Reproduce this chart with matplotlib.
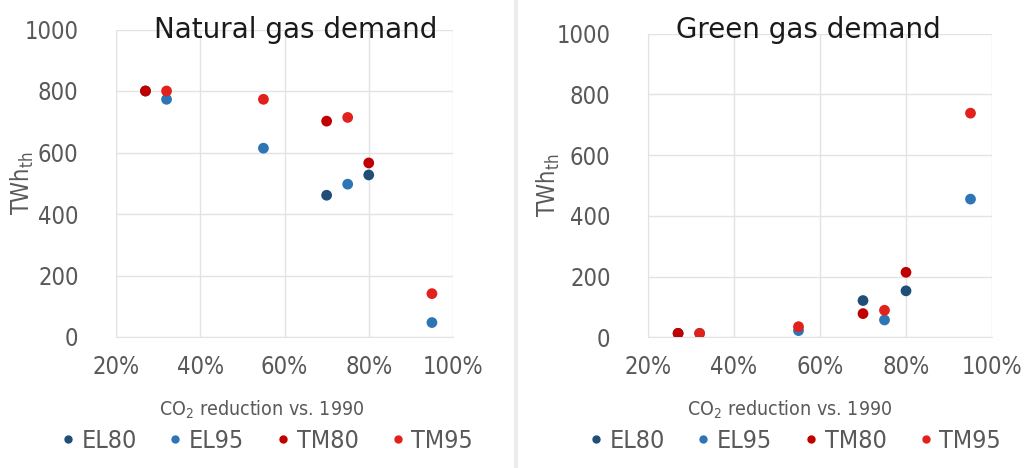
import matplotlib
matplotlib.use("Agg")
import matplotlib.pyplot as plt
from matplotlib import font_manager
from matplotlib.lines import Line2D

# ---- data ----
scenarios = ["EL80", "EL95", "TM80", "TM95"]
colors = ["#1f4e79", "#2e75b6", "#c00000", "#e2201c"]

x80 = [0.27, 0.70, 0.80]
x95 = [0.32, 0.55, 0.75, 0.95]

nat_el80 = [800, 461, 527]
nat_el95 = [773, 614, 497, 47]
nat_tm80 = [800, 702, 566]
nat_tm95 = [800, 773, 714, 141]

grn_el80 = [13, 121, 153]
grn_el95 = [13, 22, 57, 455]
grn_tm80 = [13, 78, 214]
grn_tm95 = [13, 35, 89, 738]

xticks = [0.2, 0.4, 0.6, 0.8, 1.0]
xticklabels = ["20%", "40%", "60%", "80%", "100%"]
yticks = [0, 200, 400, 600, 800, 1000]

titles = ["Natural gas demand", "Green gas demand"]
xlabel = "CO$_2$ reduction vs. 1990"
ylabel = "TWh$_{\\mathrm{th}}$"

# ---- fonts ----
plt.rcParams["mathtext.fontset"] = "custom"
plt.rcParams["mathtext.rm"] = "DejaVu Sans:stretch=condensed"
plt.rcParams["mathtext.it"] = "DejaVu Sans:stretch=condensed"
narrow = font_manager.FontProperties(family="DejaVu Sans", stretch="condensed")
gray = "#595959"

fig = plt.figure(figsize=(10.29, 4.68), dpi=100)
W, H = 1029, 468

def fx(px):
    return px / W

def fy(py):
    return 1 - py / H

# separator line between panels
fig.add_artist(Line2D([fx(516), fx(516)], [0, 1], color="#ececec", lw=3))

panels = [
    dict(rect=(116, 453, 29.5, 337), data=[(x80, nat_el80), (x95, nat_el95), (x80, nat_tm80), (x95, nat_tm95)],
         title_x=296, title_y=30, lab_x=262, ylab_x=36),
    dict(rect=(648, 992, 33.6, 337.3), data=[(x80, grn_el80), (x95, grn_el95), (x80, grn_tm80), (x95, grn_tm95)],
         title_x=808, title_y=30, lab_x=790, ylab_x=562),
]

for i, p in enumerate(panels):
    l, r, t, b = p["rect"]
    ax = fig.add_axes([fx(l), fy(b), fx(r) - fx(l), fy(t) - fy(b)])
    for (xs, ys), c, name in zip(p["data"], colors, scenarios):
        ax.scatter(xs, ys, s=60, color=c, edgecolors="none", zorder=3, label=name)
    ax.set_xlim(0.2, 1.0)
    ax.set_ylim(0, 1000)
    ax.set_xticks(xticks)
    ax.set_xticklabels(xticklabels)
    ax.set_yticks(yticks)
    ax.grid(True, color="#e3e3e3", lw=1)
    ax.set_axisbelow(True)
    for s in ["top", "right"]:
        ax.spines[s].set_visible(False)
    for s in ["left", "bottom"]:
        ax.spines[s].set_color("#e3e3e3")
    ax.tick_params(length=0, pad=27, labelsize=17, labelcolor=gray)
    ax.tick_params(axis="x", pad=13)
    for lab in ax.get_xticklabels() + ax.get_yticklabels():
        lab.set_fontproperties(narrow)
        lab.set_fontsize(17)
    ax.set_ylabel(ylabel, fontsize=17, color=gray, fontproperties=narrow)
    ax.yaxis.label.set_fontsize(17)
    ax.yaxis.set_label_coords((p["ylab_x"] - l) / (r - l), 0.5)
    fig.text(fx(p["title_x"]), fy(p["title_y"]), titles[i], ha="center", va="center",
             fontsize=20, color="#1a1a1a", family="DejaVu Sans")
    t2 = fig.text(fx(p["lab_x"]), fy(410), xlabel, ha="center", va="center",
                  color=gray, fontproperties=narrow)
    t2.set_fontsize(14)
    handles = [Line2D([], [], marker="o", ls="none", color=c, markersize=5) for c in colors]
    prop = narrow.copy()
    prop.set_size(18)
    leg = fig.legend(handles, scenarios, loc="center", bbox_to_anchor=(fx(p["lab_x"] + 2), fy(441)),
                     ncol=4, frameon=False, handletextpad=0.05, columnspacing=1.05,
                     handlelength=1.0, prop=prop)
    for tx in leg.get_texts():
        tx.set_color(gray)

fig.savefig("out.png", dpi=100)
